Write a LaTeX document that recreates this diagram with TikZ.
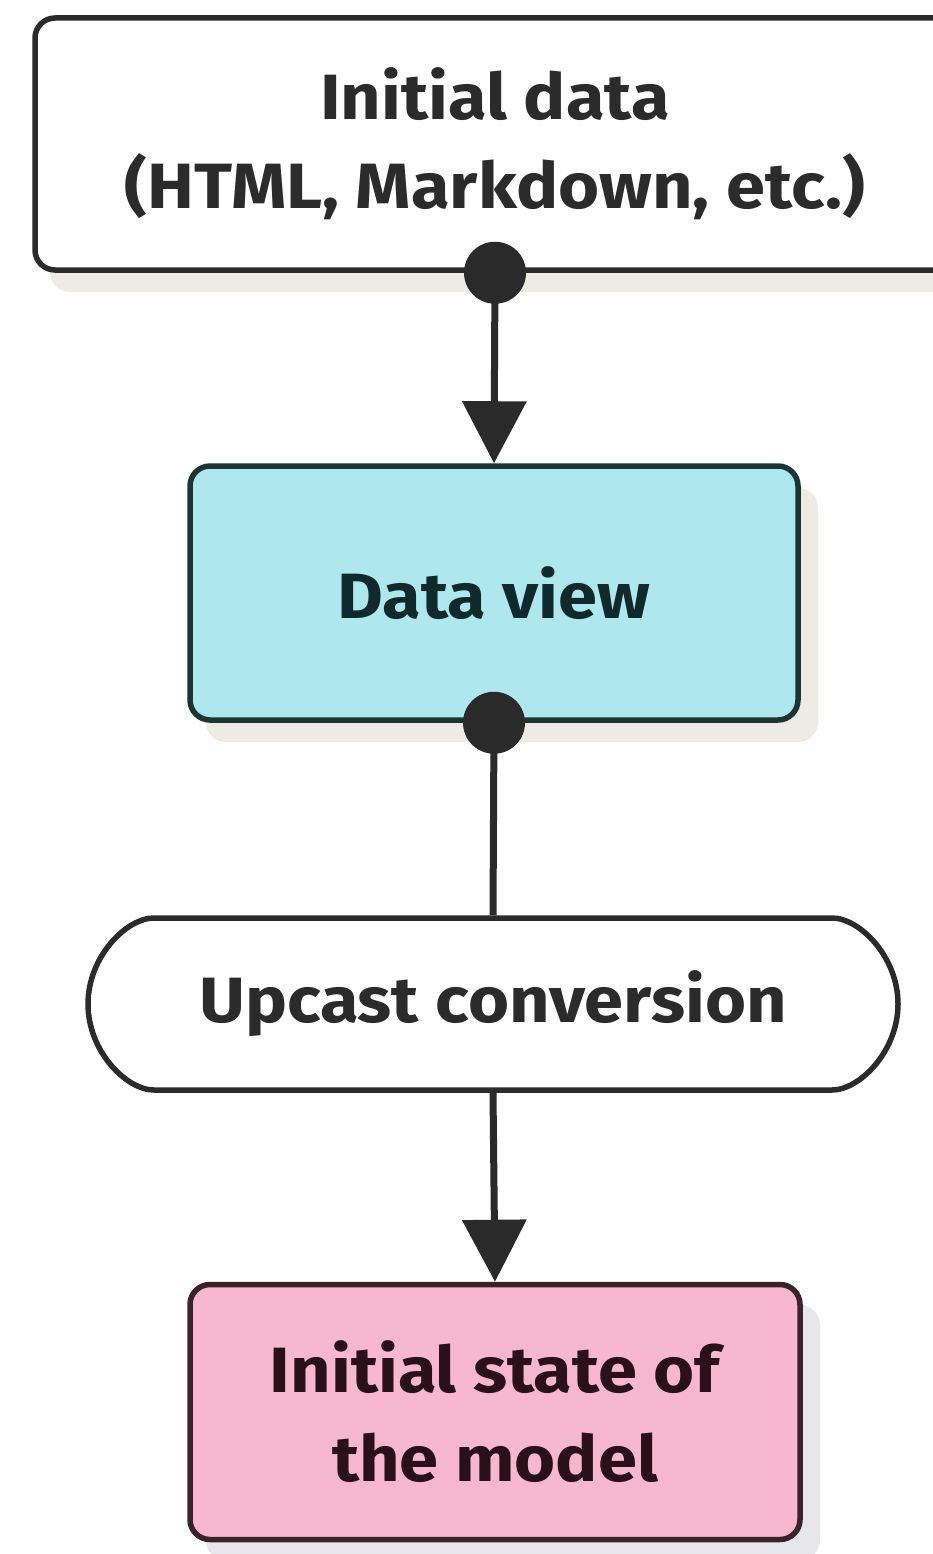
\documentclass[tikz,border=0pt]{standalone}
\usepackage{fontspec}
\setmainfont{Fira Sans}[FakeStretch=1.1]
\usetikzlibrary{arrows.meta,shapes.misc}
\definecolor{edgeA}{HTML}{2B2B2B}
\definecolor{edgeB}{HTML}{1E3434}
\definecolor{fillB}{HTML}{AFE7EF}
\definecolor{txtB}{HTML}{10292C}
\definecolor{edgeC}{HTML}{3A2228}
\definecolor{fillC}{HTML}{F7B7CE}
\definecolor{txtC}{HTML}{2A1119}
\definecolor{shadowA}{HTML}{EEEAE4}
\definecolor{shadowC}{HTML}{E7E6EA}
\definecolor{wire}{HTML}{2A2A2A}
\begin{document}
\begin{tikzpicture}[x=1pt,y=-1pt,
  box/.style={draw=edgeA, line width=5.5pt, rounded corners=20pt, fill=white,
    inner sep=0pt, align=center, font=\fontsize{64}{89}\selectfont\bfseries, text=edgeA},
  wireline/.style={draw=wire, line width=7pt},
  arrowline/.style={wireline, -{Triangle[width=63pt,length=62pt]}},
  dot/.style={fill=wire}]
\useasboundingbox (0,0) rectangle (933,1554);
\fill[white] (0,0) rectangle (933,1554);
% shadows
\fill[shadowA, rounded corners=20pt] (50,40) rectangle (975,292);
\fill[shadowA, rounded corners=20pt] (206,488) rectangle (818,742);
\fill[shadowC, rounded corners=20pt] (206,1305) rectangle (820,1560);
% nodes
\node[box, minimum width=920pt, minimum height=252pt] (src) at (495,144)
  {Initial data\\(HTML, Markdown, etc.)};
\node[box, draw=edgeB, fill=fillB, text=txtB, minimum width=608pt, minimum height=254pt] (view) at (494,593)
  {Data view};
\node[box, rounded rectangle, minimum width=810pt, minimum height=172pt] (conv) at (493,1004)
  {Upcast conversion};
\node[box, draw=edgeC, fill=fillC, text=txtC, minimum width=610pt, minimum height=255pt] (state) at (495,1412)
  {Initial state of\\the model};
% connectors
\draw[arrowline] (src.south) -- (view.north);
\fill[dot] (src.south) circle[radius=31pt];
\draw[wireline] (view.south) -- (conv.north);
\fill[dot] (view.south) circle[radius=31pt];
\draw[arrowline] (conv.south) -- (state.north);
\end{tikzpicture}
\end{document}
